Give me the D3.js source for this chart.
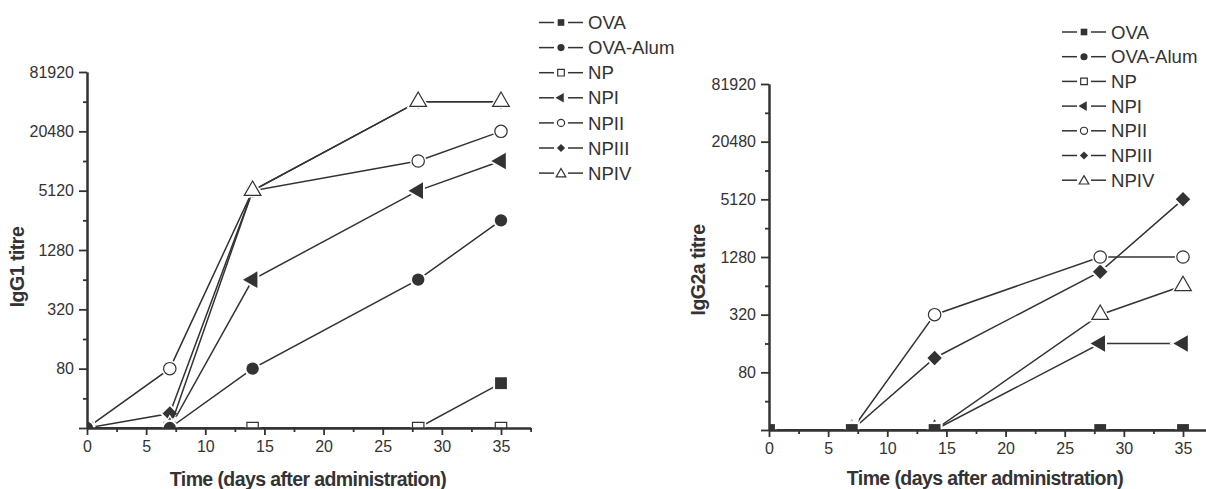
<!DOCTYPE html>
<html lang="en">
<head>
<meta charset="UTF-8">
<title>IgG1 / IgG2a titres</title>
<script src="https://cdn.jsdelivr.net/npm/d3@7"></script>
<style>
    html, body { margin: 0; background: #fff; }
    svg { display: block; font-family: "Liberation Sans", Arial, Helvetica, sans-serif; }
</style>
</head>
<body>
<svg id="chart" width="1206" height="489"></svg>
<script>
    // days on the x axis
    const days = [0, 7, 14, 28, 35];
    const groups = ['OVA', 'OVA-Alum', 'NP', 'NPI', 'NPII', 'NPIII', 'NPIV'];

    // IgG1 titres, one array per group
    const igg1OVA     = [20, 20, 20, 20, 57];
    const igg1OVAAlum = [20, 20, 80, 640, 2560];
    const igg1NP      = [20, 20, 20, 20, 20];
    const igg1NPI     = [20, 20, 640, 5120, 10240];
    const igg1NPII    = [20, 80, 5120, 10240, 20480];
    const igg1NPIII   = [20, 28, 5120, 40960, 40960];
    const igg1NPIV    = [20, 20, 5120, 40960, 40960];

    // IgG2a titres
    const igg2OVA     = [20, 20, 20, 20, 20];
    const igg2OVAAlum = [20, 20, 20, 20, 20];
    const igg2NP      = [20, 20, 20, 20, 20];
    const igg2NPI     = [20, 20, 20, 160, 160];
    const igg2NPII    = [20, 20, 320, 1280, 1280];
    const igg2NPIII   = [20, 20, 113, 900, 5120];
    const igg2NPIV    = [20, 20, 20, 320, 640];

    const yTicks = [80, 320, 1280, 5120, 20480, 81920];
    const yMajor = [20, 80, 320, 1280, 5120, 20480, 81920];
    const yMinor = [40, 160, 640, 2560, 10240, 40960];
    const xTicks = [0, 5, 10, 15, 20, 25, 30, 35];
    const xMinor = [2.5, 7.5, 12.5, 17.5, 22.5, 27.5, 32.5, 37.5];

    const ink = '#333';
    const svg = d3.select('#chart');

    // marker look per group
    const markers = {
        'OVA':      {type: d3.symbolSquare,   rot: 0,   fill: ink,    size: 140, lsize: 44},
        'OVA-Alum': {type: d3.symbolCircle,   rot: 0,   fill: ink,    size: 120, lsize: 40},
        'NP':       {type: d3.symbolSquare,   rot: 0,   fill: '#fff', size: 130, lsize: 44},
        'NPI':      {type: d3.symbolTriangle, rot: -90, fill: ink,    size: 120, lsize: 40},
        'NPII':     {type: d3.symbolCircle,   rot: 0,   fill: '#fff', size: 120, lsize: 40},
        'NPIII':    {type: d3.symbolSquare,   rot: 45,  fill: ink,    size: 105, lsize: 34},
        'NPIV':     {type: d3.symbolTriangle, rot: 0,   fill: '#fff', size: 120, lsize: 40}
    };

    function drawMarker(sel, name, x, y, size, halo) {
        const m = markers[name];
        const p = d3.symbol().type(m.type).size(size)();
        const tr = `translate(${x},${y}) rotate(${m.rot})`;
        if (halo) {
            sel.append('path').attr('d', p).attr('transform', tr)
                .attr('fill', '#fff').attr('stroke', '#fff').attr('stroke-width', 4);
        }
        sel.append('path').attr('d', p).attr('transform', tr)
            .attr('fill', m.fill)
            .attr('stroke', ink)
            .attr('stroke-width', m.fill === ink ? 0 : 1.2);
    }

    function panel(cfg) {
        const x = d3.scaleLinear().domain([0, 37.5]).range([cfg.left, cfg.left + 414 / 35 * 37.5]);
        const y = d3.scaleLog().domain([20, 81920]).range([cfg.bottom, cfg.top]);

        const g = svg.append('g');

        // data, clipped to the frame like the original
        const clipId = 'clip' + cfg.left;
        g.append('clipPath').attr('id', clipId).append('rect')
            .attr('x', x(0)).attr('y', cfg.top - 30)
            .attr('width', x(37.5) - x(0)).attr('height', cfg.bottom - cfg.top + 30);
        const plot = g.append('g').attr('clip-path', `url(#${clipId})`);
        const line = d3.line().x((d, i) => x(days[i])).y(d => y(d));

        cfg.order.forEach(k => {
            const vals = cfg.series[k];
            const s = plot.append('g');
            s.append('path').attr('d', line(vals))
                .attr('fill', 'none').attr('stroke', ink).attr('stroke-width', 1.5);
            vals.forEach((v, i) => drawMarker(s, groups[k], x(days[i]), y(v), markers[groups[k]].size, true));
        });

        // axes on top of the marks
        const xa = g.append('g').attr('transform', `translate(0,${cfg.bottom})`)
            .call(d3.axisBottom(x).tickValues(xMinor).tickSize(4).tickSizeOuter(0).tickFormat(''));
        const xb = g.append('g').attr('transform', `translate(0,${cfg.bottom})`)
            .call(d3.axisBottom(x).tickValues(xTicks).tickSize(7).tickSizeOuter(0).tickPadding(6));
        const ya = g.append('g').attr('transform', `translate(${cfg.left},0)`)
            .call(d3.axisLeft(y).tickValues(yMinor).tickSize(4).tickSizeOuter(0).tickFormat(''));
        const yb = g.append('g').attr('transform', `translate(${cfg.left},0)`)
            .call(d3.axisLeft(y).tickValues(yMajor).tickSize(8).tickSizeOuter(0).tickPadding(5)
                .tickFormat(d => yTicks.includes(d) ? d : ''));
        [xa, xb, ya, yb].forEach(a => {
            a.selectAll('path.domain').attr('stroke', ink).attr('stroke-width', 2);
            a.selectAll('line').attr('stroke', ink).attr('stroke-width', 1.8);
            a.selectAll('text').attr('fill', ink).style('font-size', '16px').style('font-family', null);
        });

        // titles
        g.append('text').attr('x', cfg.xTitleX).attr('y', cfg.xTitleY)
            .attr('text-anchor', 'middle').attr('fill', ink)
            .style('font-size', '19.5px').style('font-weight', 'bold').style('letter-spacing', '-0.6px')
            .text('Time (days after administration)');
        g.append('text').attr('transform', `translate(${cfg.yTitleX},${cfg.yTitleY}) rotate(-90)`)
            .attr('text-anchor', 'middle').attr('fill', ink)
            .style('font-size', '19.5px').style('font-weight', 'bold').style('letter-spacing', '-0.5px')
            .text(cfg.yTitle);

        // legend
        const lg = g.append('g');
        groups.forEach((name, i) => {
            const ly = cfg.legY + i * cfg.legStep;
            const lx = cfg.legX;
            lg.append('line').attr('x1', lx).attr('x2', lx + 15).attr('y1', ly).attr('y2', ly)
                .attr('stroke', ink).attr('stroke-width', 1.5);
            lg.append('line').attr('x1', lx + 29).attr('x2', lx + 44).attr('y1', ly).attr('y2', ly)
                .attr('stroke', ink).attr('stroke-width', 1.5);
            drawMarker(lg, name, lx + 22, ly + (name === 'NPIV' ? 1 : 0), markers[name].lsize, false);
            lg.append('text').attr('x', lx + 49).attr('y', ly).attr('dy', '0.36em')
                .attr('fill', ink).style('font-size', '18.6px').text(name);
        });
    }

    panel({
        left: 87, bottom: 428, top: 72,
        yTitle: 'IgG1 titre', yTitleX: 24, yTitleY: 267,
        xTitleX: 308, xTitleY: 486,
        legX: 539, legY: 22.5, legStep: 25.1,
        series: [igg1OVA, igg1OVAAlum, igg1NP, igg1NPI, igg1NPII, igg1NPIII, igg1NPIV],
        order: [5, 4, 6, 3, 0, 2, 1]
    });

    panel({
        left: 769, bottom: 430, top: 84,
        yTitle: 'IgG2a titre', yTitleX: 705, yTitleY: 270,
        xTitleX: 985, xTitleY: 485,
        legX: 1062, legY: 32, legStep: 24.7,
        series: [igg2OVA, igg2OVAAlum, igg2NP, igg2NPI, igg2NPII, igg2NPIII, igg2NPIV],
        order: [6, 5, 4, 3, 2, 1, 0]
    });
</script>
</body>
</html>
